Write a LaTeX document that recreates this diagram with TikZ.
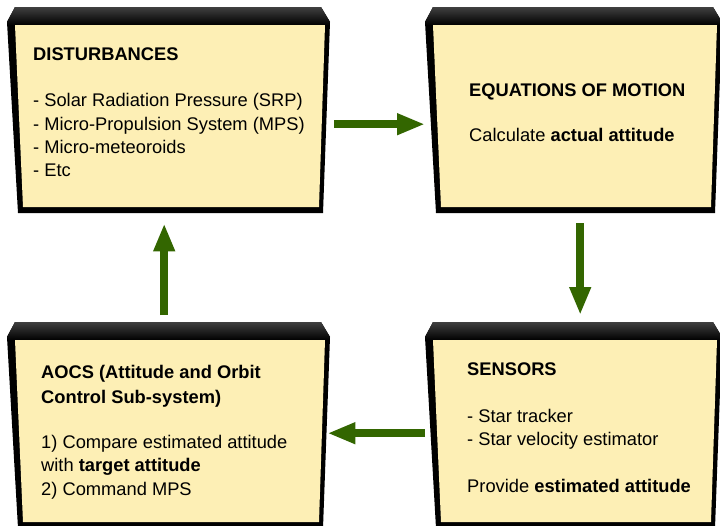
\documentclass[tikz,border=0pt]{standalone}
\usepackage{fontspec}
\setmainfont{Liberation Sans}
\usetikzlibrary{arrows.meta}
\definecolor{panelfill}{HTML}{FDEFB5}
\definecolor{flowgreen}{HTML}{336600}
\tikzset{
  panel/.style={inner sep=0pt, anchor=north west, minimum height=206pt},
  paneltext/.style={anchor=base west, align=left, inner sep=0pt, font=\fontsize{18.3}{23.3}\selectfont},
  flow/.style={line width=8pt, flowgreen, -{Triangle[length=28pt,width=20pt]}}
}
% name, left, top, width
\newcommand{\panelbox}[4]{%
  \begin{scope}[shift={(#2,#3)}]
    \fill[black] (0,15) -- (8,0) -- (#4-9,0) -- (#4,15) -- (#4-7,206) -- (11,206) -- cycle;
    \shade[top color=black!75, bottom color=black] (0,15) -- (8,0) -- (#4-9,0) -- (#4,15) -- (#4-1,18) -- (1,18) -- cycle;
    \fill[panelfill] (8,18) -- (#4-5,18) -- (#4-11,200) -- (16,200) -- cycle;
    \node[panel, minimum width=#4pt] (#1) at (0,0) {};
  \end{scope}}
\begin{document}
\begin{tikzpicture}[x=1pt,y=-1pt]
  \useasboundingbox (0,0) rectangle (720,525);
  \clip (0,0) rectangle (720,525);
  \fill[white] (0,0) rectangle (720,525);
  % the four blocks
  \panelbox{dist}{7}{7}{323}
  \panelbox{eom}{425}{7}{297}
  \panelbox{aocs}{7}{322}{323}
  \panelbox{sens}{425}{322}{297}
  % texts (base = last line)
  \node[paneltext] (disttext) at (33,176.7) {\textbf{DISTURBANCES}\\[23.3pt]
    - Solar Radiation Pressure (SRP)\\ - Micro-Propulsion System (MPS)\\
    - Micro-meteoroids\\ - Etc};
  \node[paneltext] (eomtext) at (469,141.7) {\textbf{EQUATIONS OF MOTION}\\[21.7pt]
    Calculate \textbf{actual attitude}};
  \node[paneltext] (aocstext) at (41,495) {\textbf{AOCS (Attitude and Orbit}\\[1.7pt]
    \textbf{Control Sub-system)}\\[21.7pt] 1) Compare estimated attitude\\
    with \textbf{target attitude}\\ 2) Command MPS};
  \node[paneltext] (senstext) at (467,492.7) {\textbf{SENSORS}\\[23.3pt]
    - Star tracker\\ - Star velocity estimator\\[24pt] Provide \textbf{estimated attitude}};
  % loop arrows
  \draw[flow] ([xshift=4pt,yshift=-14pt]dist.east) -- ([yshift=-14pt]eom.west);
  \draw[flow] ([xshift=6.5pt,yshift=-10pt]eom.south) -- ([xshift=6.5pt,yshift=7pt]sens.north);
  \draw[flow] ([yshift=-8pt]sens.west) -- ([xshift=-3pt,yshift=-8pt]aocs.east);
  \draw[flow] ([xshift=-4.5pt,yshift=7pt]aocs.north) -- ([xshift=-4.5pt,yshift=-10pt]dist.south);
\end{tikzpicture}
\end{document}
